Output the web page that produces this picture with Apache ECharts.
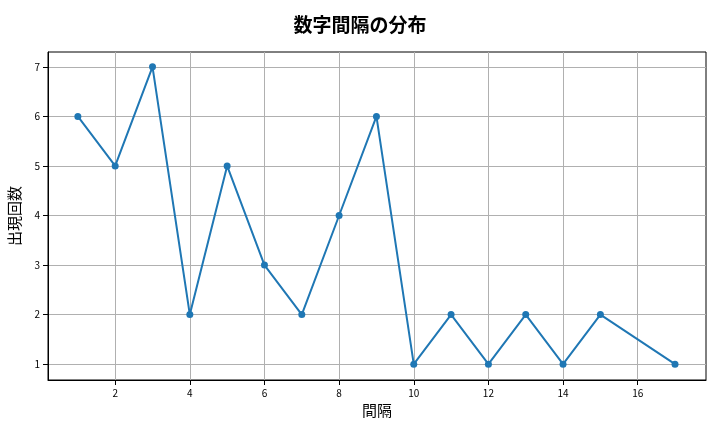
<!DOCTYPE html>
<html><head><meta charset="utf-8">
<script src="https://cdn.jsdelivr.net/npm/echarts@6/dist/echarts.min.js"></script>
<style>html,body{margin:0;padding:0;background:#fff}#c{width:720px;height:432px}</style>
</head><body><div id="c"></div>
<script>
const intervals = [1,2,3,4,5,6,7,8,9,10,11,12,13,14,15,17];
const counts    = [6,5,7,2,5,3,2,4,6,1,2,1,2,1,2,1];
const xTicks = [2,4,6,8,10,12,14,16];
const yTicks = [1,2,3,4,5,6,7];
const font = "'Noto Sans CJK JP', sans-serif";
const chart = echarts.init(document.getElementById('c'));
chart.setOption({
  animation:false,
  title:{text:'数字間隔の分布',left:'center',top:10,textStyle:{fontFamily:font,fontSize:19,fontWeight:'bold',color:'#000'}},
  grid:{left:48,right:14,top:52,bottom:52,outerBoundsMode:'none',show:true,borderColor:'#000',borderWidth:1},
  xAxis:{type:'value',min:0.2,max:17.83,name:'間隔',nameLocation:'middle',nameGap:20,
    nameTextStyle:{fontFamily:font,fontSize:15,color:'#000'},
    axisLine:{onZero:false,lineStyle:{color:'#000'}},
    axisTick:{show:true,customValues:xTicks,lineStyle:{color:'#000'}},
    axisLabel:{customValues:xTicks,color:'#000',fontSize:10,fontFamily:font},
    splitLine:{show:true,lineStyle:{color:'#b0b0b0'}}},
  yAxis:{type:'value',min:0.68,max:7.3,name:'出現回数',nameLocation:'middle',nameGap:26,
    nameTextStyle:{fontFamily:font,fontSize:15,color:'#000'},
    axisLine:{show:true,onZero:false,lineStyle:{color:'#000'}},
    axisTick:{show:true,customValues:yTicks,lineStyle:{color:'#000'}},
    axisLabel:{customValues:yTicks,color:'#000',fontSize:10,fontFamily:font},
    splitLine:{show:true,lineStyle:{color:'#b0b0b0'}}},
  series:[{type:'line',data:intervals.map((x,i)=>[x,counts[i]]),
    symbol:'circle',symbolSize:7,itemStyle:{color:'#1f77b4'},lineStyle:{color:'#1f77b4',width:2}}]
});
</script></body></html>
